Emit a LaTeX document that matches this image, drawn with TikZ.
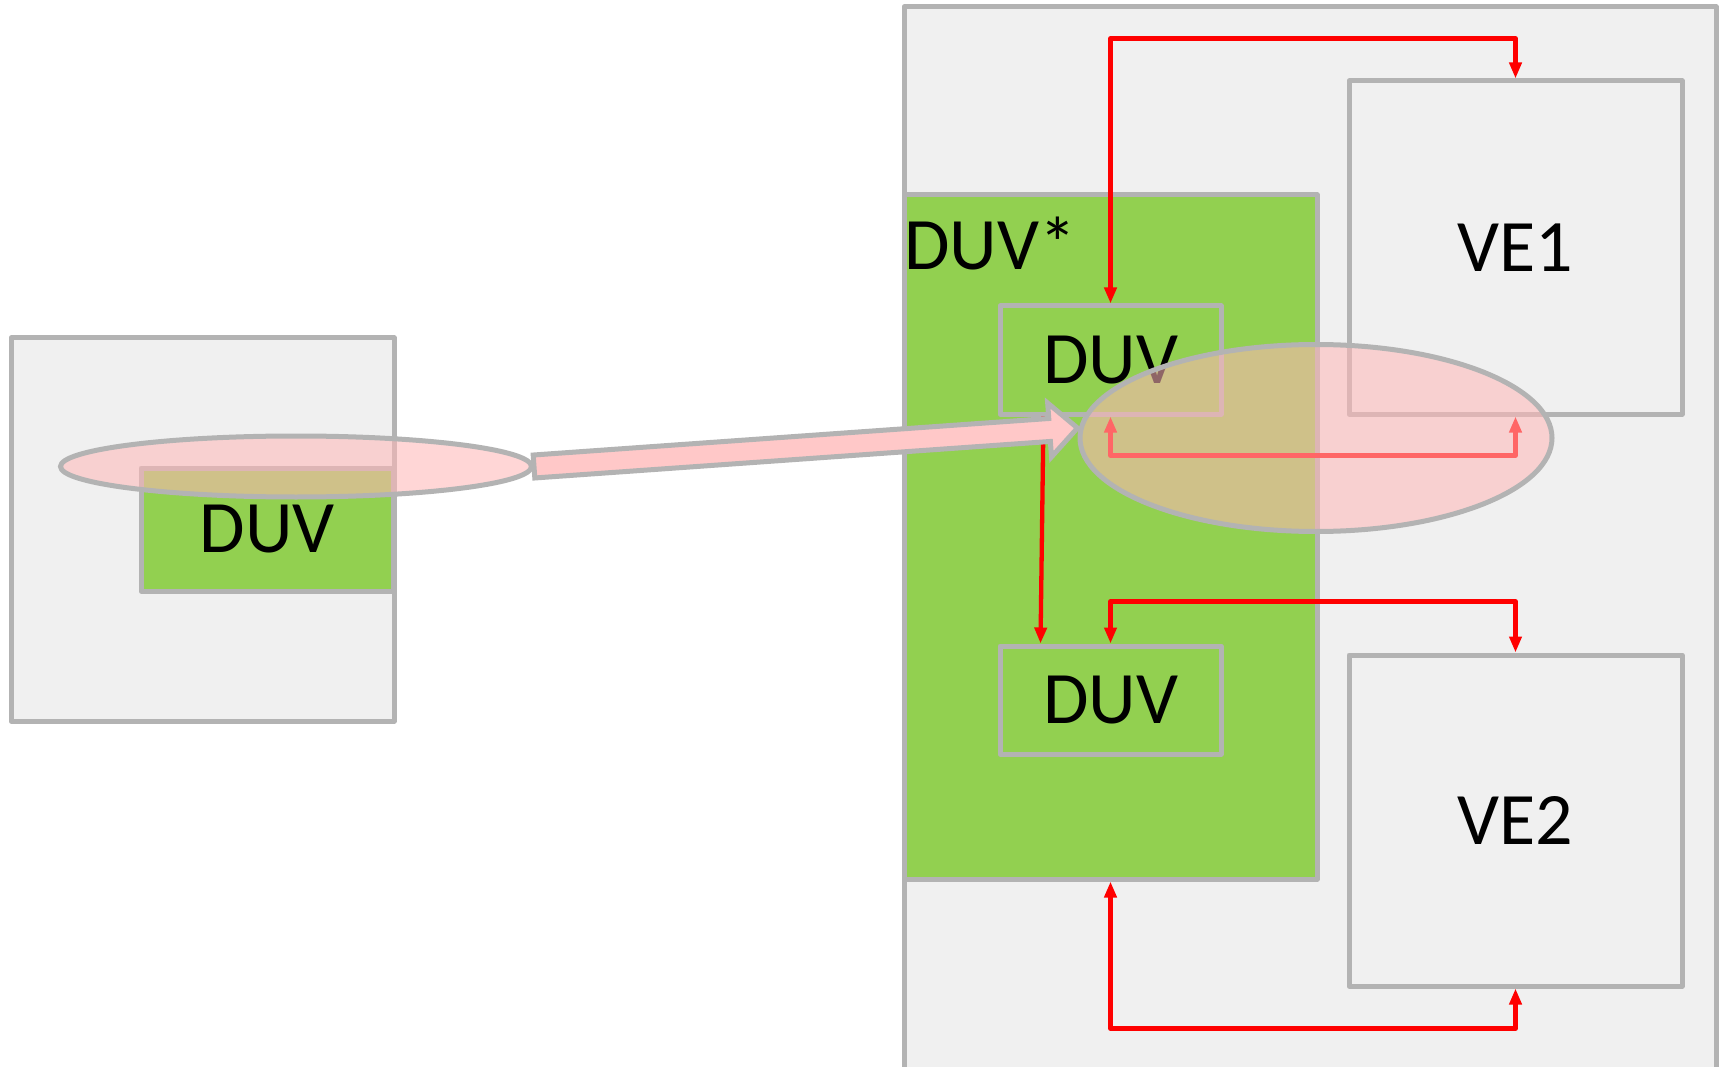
\documentclass[tikz,border=0pt]{standalone}
\usepackage{fontspec}
\setmainfont{Carlito}
\usetikzlibrary{shapes.geometric,arrows.meta,calc}
\definecolor{gline}{HTML}{B3B3B3}
\definecolor{gfill}{HTML}{F0F0F0}
\definecolor{greenA}{HTML}{92D050}
\definecolor{pinkA}{HTML}{FFC8C8}
\definecolor{pinkE}{HTML}{FFB7B7}
\definecolor{redA}{HTML}{FF0000}
\begin{document}
\begin{tikzpicture}[x=1pt,y=-1pt,
  >={Triangle[length=16pt,width=12pt]},
  box/.style={draw=gline, line width=5pt, fill=gfill, line join=round, inner sep=0pt,
              font=\fontsize{74}{80}\selectfont},
  gbox/.style={box, fill=greenA},
  hl/.style={ellipse, draw=gline, line width=5pt, fill=pinkE, fill opacity=0.56,
             draw opacity=1, inner sep=0pt},
  link/.style={draw=redA, line width=4.3pt, line join=round},
  fat/.style={draw=gline, line width=5pt, fill=pinkA, line join=miter},
  lbl/.style={inner sep=0pt, anchor=base west, font=\fontsize{74}{80}\selectfont}
]
\useasboundingbox (0,0) rectangle (1725,1067);
\clip (0,0) rectangle (1725,1067);
\fill[white] (0,0) rectangle (1725,1067);

% left side
\node[box, minimum width=383pt, minimum height=383pt] (lbox) at (202.5,529.5) {};
\node[gbox, minimum width=252pt, minimum height=123pt] (lduv) at (267,529.5) {DUV};

% right side
\node[box, minimum width=812pt, minimum height=1073pt] (rbox) at (1310,543.5) {};
\node[gbox, minimum width=413pt, minimum height=684pt] (duvstar) at (1110.5,537) {};
\node[lbl] (duvstarlbl) at (904,269.5) {DUV*};
\node[gbox, minimum width=221pt, minimum height=108pt] (duvA) at (1110.5,360) {DUV};
\node[gbox, minimum width=221pt, minimum height=108pt] (duvB) at (1110.5,700) {DUV};
\node[box, minimum width=333pt, minimum height=333pt] (ve1) at (1515.5,247.5) {VE1};
\node[box, minimum width=333pt, minimum height=331pt] (ve2) at (1515.5,820.5) {VE2};

% red connectors
\draw[link,<->] (duvA.north) -- ++(0,-265) -| (ve1.north);
\draw[link,<->] (duvB.north) -- ++(0,-42) -| (ve2.north);
\draw[link,<->] (duvstar.south) -- ++(0,147) -| (ve2.south);
\draw[link,<->] (duvA.south) -- ++(0,39) -| (ve1.south);
\coordinate (dstart) at ($(duvA.south west)+(46,0)$);
\coordinate (dend) at ($(duvB.north west)+(43,0)$);
\draw[link,->] (dstart) -- (dend);

% highlight ellipses
\node[hl, minimum width=471pt, minimum height=61pt] (lell) at (296,466.5) {};
\node[hl, minimum width=472pt, minimum height=187pt] (bell) at (1316,438) {};

% fat arrow
\coordinate (fs) at (lell.east);
\coordinate (ft) at ($(bell.west)+(0,-10)$);
\coordinate (hb) at ($(ft)!28pt!(fs)$);
\draw[fat] ($(fs)!11.5pt!90:(ft)$) -- ($(hb)!11.5pt!-90:(fs)$) -- ($(hb)!27pt!-90:(fs)$)
  -- (ft) -- ($(hb)!27pt!90:(fs)$) -- ($(hb)!11.5pt!90:(fs)$) -- ($(fs)!11.5pt!-90:(ft)$) -- cycle;
\end{tikzpicture}
\end{document}
